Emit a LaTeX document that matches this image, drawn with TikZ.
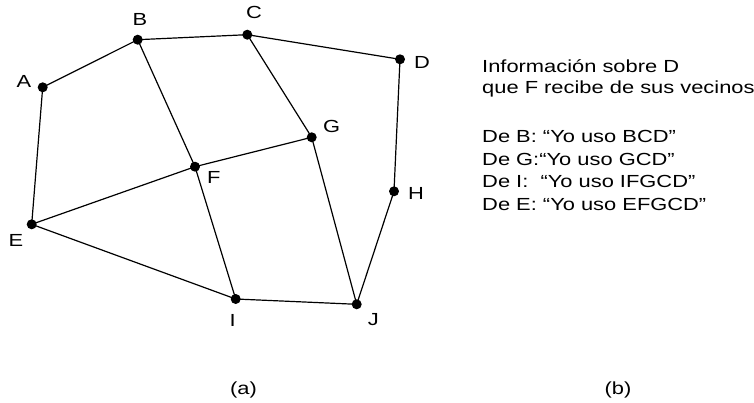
\documentclass[tikz,border=0pt]{standalone}
\usepackage{fontspec}
\setmainfont{Liberation Sans}
\usepackage{graphicx}
\usetikzlibrary{backgrounds}
\newcommand{\wtxt}[1]{\scalebox{1.25}[1]{#1}}
\tikzset{
  dot/.style={circle, fill=black, inner sep=0pt, minimum size=10pt},
  lbl/.style={inner sep=0pt, font=\fontsize{17.5}{20}\selectfont},
  edge/.style={line width=1.2pt, black},
}
\begin{document}
\begin{tikzpicture}[x=1pt,y=-1pt]
\useasboundingbox (0,0) rectangle (754,403);
% vertices
\node[dot] (A) at (42.7,87.3) {};
\node[dot] (B) at (137.7,39.7) {};
\node[dot] (C) at (247.3,34.7) {};
\node[dot] (D) at (400,59.3) {};
\node[dot] (G) at (311.7,137.3) {};
\node[dot] (F) at (195,166.7) {};
\node[dot] (H) at (394,191.3) {};
\node[dot] (E) at (31.7,224.3) {};
\node[dot] (I) at (235.7,299) {};
\node[dot] (J) at (356.7,304.3) {};
% edges
\begin{pgfonlayer}{background}
\draw[edge] (A.center) -- (B.center) -- (C.center) -- (D.center) -- (H.center) -- (J.center) -- (I.center) -- (E.center) -- (A.center);
\draw[edge] (B.center) -- (F.center) -- (I.center);
\draw[edge] (C.center) -- (G.center) -- (J.center);
\draw[edge] (E.center) -- (F.center) -- (G.center);
\end{pgfonlayer}
% labels
\node[lbl] (lA) at (24,81) {\wtxt{A}};
\node[lbl] (lB) at (140,19.3) {\wtxt{B}};
\node[lbl] (lC) at (254,12.7) {\wtxt{C}};
\node[lbl] (lD) at (422,62) {\wtxt{D}};
\node[lbl] (lG) at (331.7,126) {\wtxt{G}};
\node[lbl] (lF) at (213.7,177.3) {\wtxt{F}};
\node[lbl] (lH) at (416,193.3) {\wtxt{H}};
\node[lbl] (lE) at (16,240.7) {\wtxt{E}};
\node[lbl] (lI) at (232.7,320) {\wtxt{I}};
\node[lbl] (lJ) at (373.3,319.3) {\wtxt{J}};
% text block
\node[lbl, anchor=base west] (t1) at (482,72.5) {\wtxt{Información sobre D}};
\node[lbl, anchor=base west] (t2) at (482,93.5) {\wtxt{que F recibe de sus vecinos}};
\node[lbl, anchor=base west] (t3) at (482,143) {\wtxt{De B: “Yo uso BCD”}};
\node[lbl, anchor=base west] (t4) at (482,165.5) {\wtxt{De G:“Yo uso GCD”}};
\node[lbl, anchor=base west] (t5) at (482,188) {\wtxt{De I:\ \ “Yo uso IFGCD”}};
\node[lbl, anchor=base west] (t6) at (482,210.5) {\wtxt{De E: “Yo uso EFGCD”}};
% captions
\node[lbl, anchor=base] (ca) at (243.5,394) {\wtxt{(a)}};
\node[lbl, anchor=base] (cb) at (618,394) {\wtxt{(b)}};
\end{tikzpicture}
\end{document}
